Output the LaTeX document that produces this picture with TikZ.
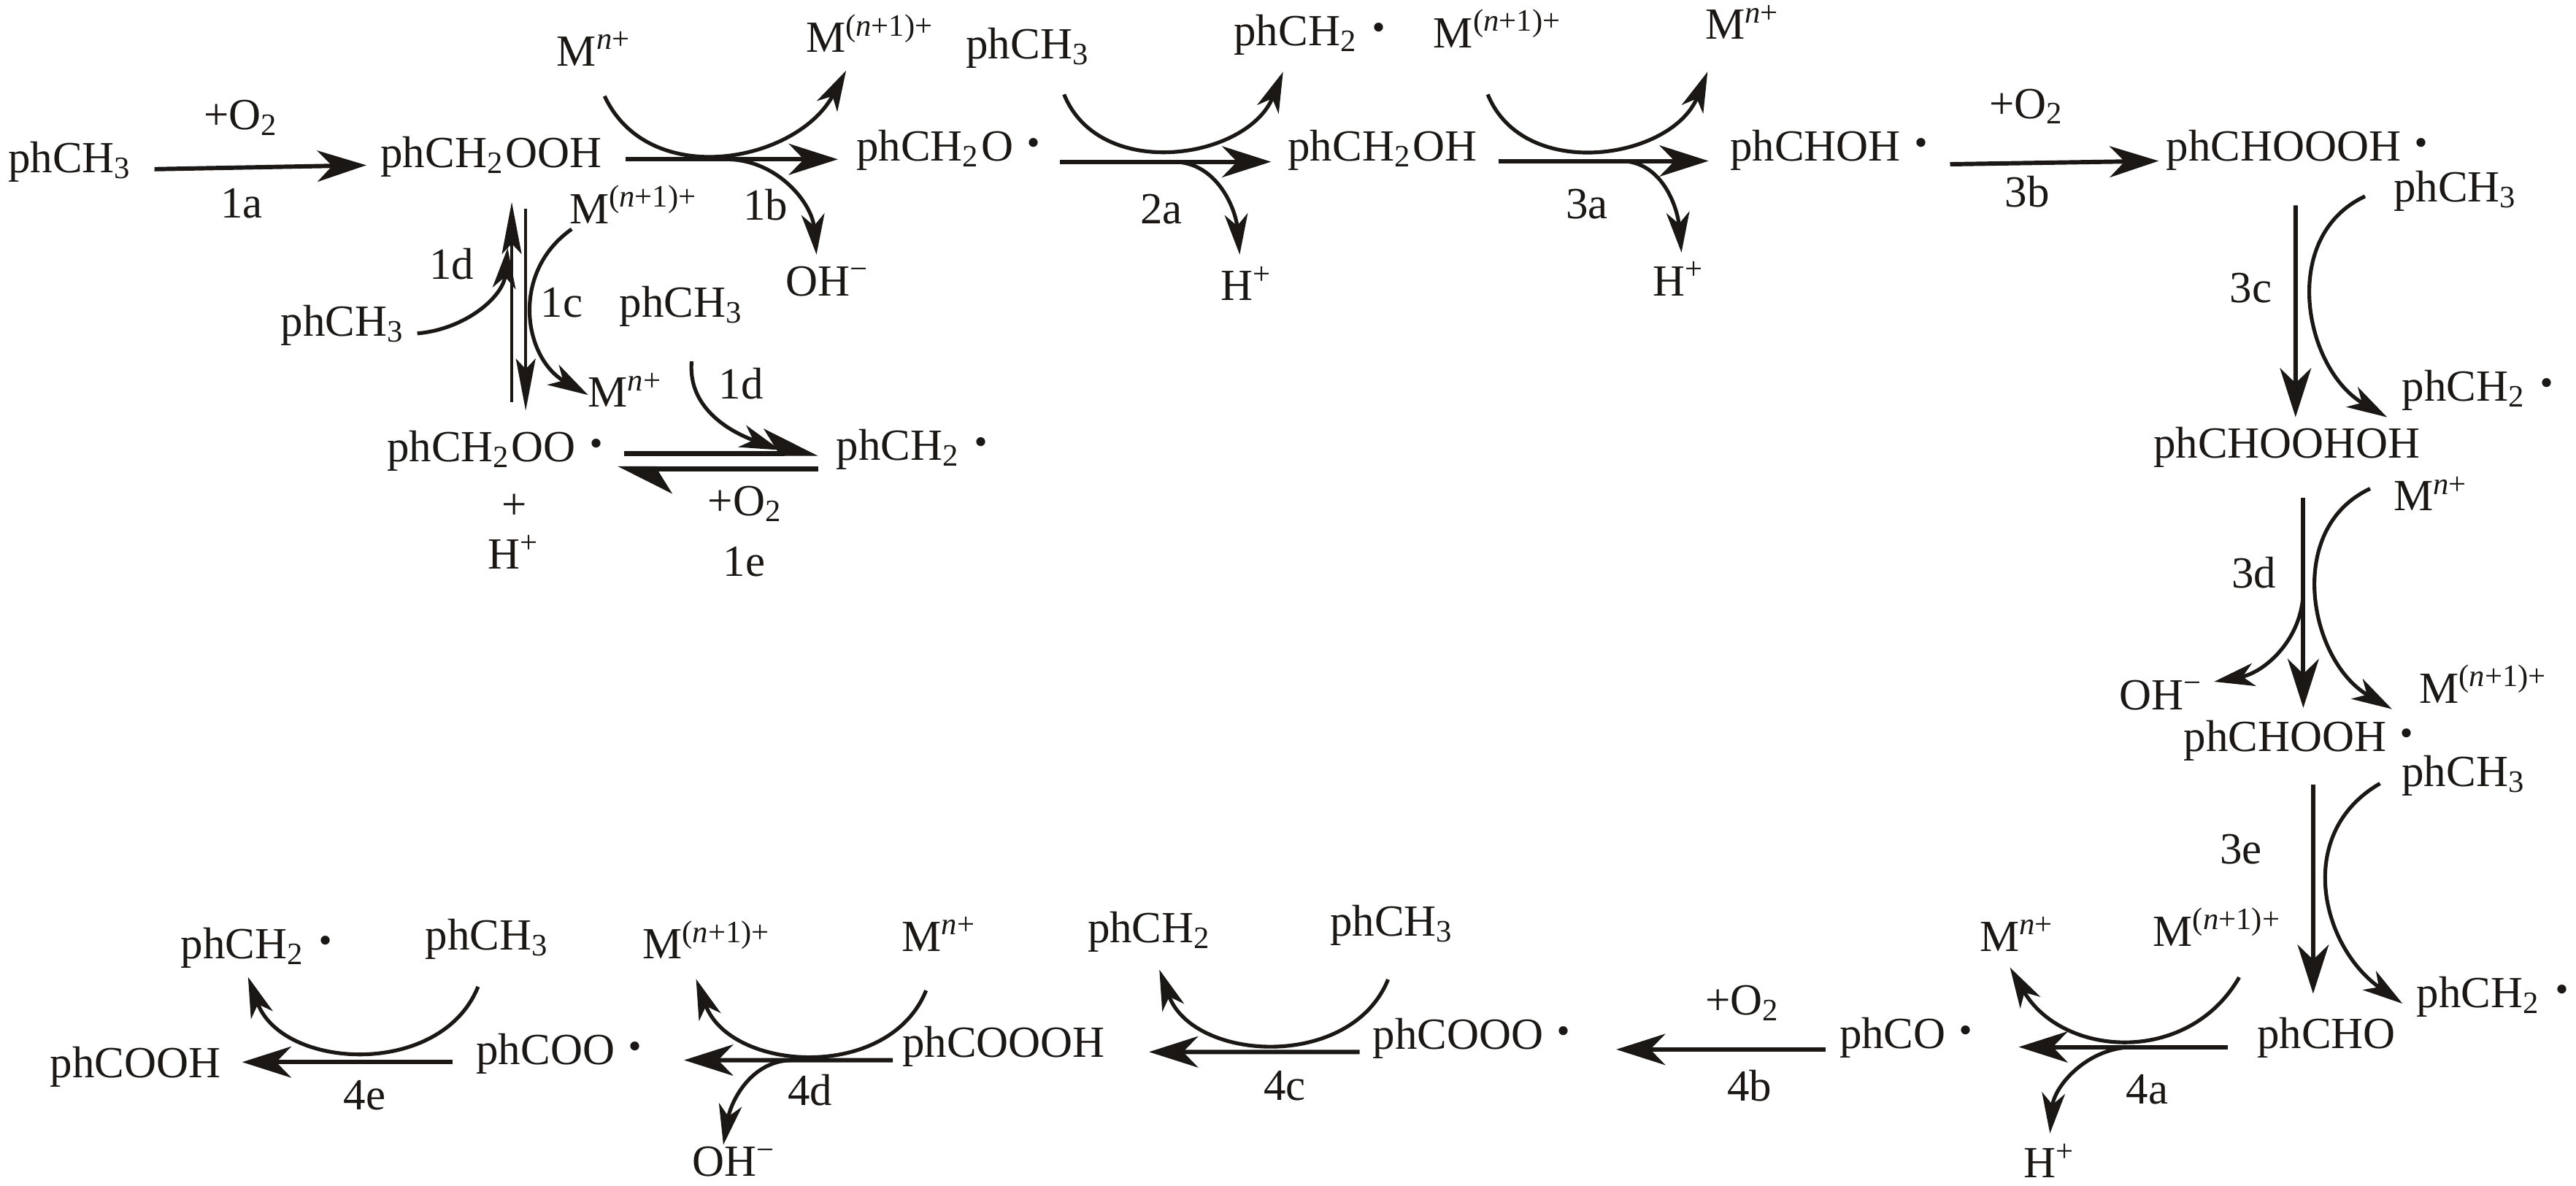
\documentclass[tikz,border=0pt]{standalone}
\usepackage{fontspec}
\setmainfont{Liberation Serif}
\usepackage{xcolor}
\usepackage{tikz}
\usetikzlibrary{arrows.meta}
\definecolor{ink}{HTML}{1A1714}
\newcommand{\dotr}{\ \textbf{\fontsize{9.5}{9}\selectfont ·}}
\newcommand{\tol}{phCH\textsubscript{3}}
\newcommand{\rad}{phCH\textsubscript{2}\dotr}
\newcommand{\mlow}{M\textsuperscript{\textit{n}+}}
\newcommand{\mhigh}{M\textsuperscript{(\textit{n}+1)+}}
\newcommand{\oxy}{+O\textsubscript{2}}
\newcommand{\hyd}{H\textsuperscript{+}}
\newcommand{\hox}{OH\textsuperscript{−}}

\begin{document}
\begin{tikzpicture}[x=.01cm,y=-.01cm,color=ink,
  every node/.style={font=\fontsize{7.7}{9}\selectfont,inner sep=0pt,text height=4pt,text depth=4pt},
  rxn/.style={-{Stealth[length=8.5pt,width=5.4pt,inset=2.6pt]},line width=.75pt},
  side/.style={-{Stealth[length=7pt,width=4pt,inset=2pt]},line width=.65pt},
  thin rxn/.style={-{Stealth[length=9pt,width=3.4pt,inset=1.8pt]},line width=.55pt},
  half/.style={-{Stealth[length=8.5pt,width=8.5pt,inset=2.6pt,harpoon]},line width=.9pt}]
  \useasboundingbox (0,0) rectangle (1568,722);
  \node (tola) at (43,105) {\tol};
  \node (rooh) at (299,102) {phCH\textsubscript{2}OOH};
  \node (mna) at (362,40) {\mlow};
  \node (mpa) at (530,32) {\mhigh};
  \node (ohb) at (504,180) {\hox};
  \node (roa) at (578,98) {phCH\textsubscript{2}O\dotr};
  \node (tolb) at (626,36) {\tol};
  \node (rb) at (798,28) {\rad};
  \node (hb) at (759,183) {\hyd};
  \node (rohc) at (841.5,98) {phCH\textsubscript{2}OH};
  \node (mpc) at (912,29) {\mhigh};
  \node (mnc) at (1061,24) {\mlow};
  \node (hc) at (1022,180) {\hyd};
  \node (choh) at (1114,98) {phCHOH\dotr};
  \node (chooo) at (1399,98) {phCHOOOH\dotr};
  \node (told) at (1495,123) {\tol};
  \node (rd) at (1509,244) {\rad};
  \node (chohoh) at (1392,279) {phCHOOHOH};
  \node (mnd) at (1480,311) {\mlow};
  \node (ohd) at (1316,432) {\hox};
  \node (mpd) at (1512,428) {\mhigh};
  \node (chooh) at (1400,457.6) {phCHOOH\dotr};
  \node (tole) at (1500,478.6) {\tol};
  \node (re) at (1518,613.5) {\rad};
  \node (cho) at (1416,638.4) {phCHO};
  \node (mpf) at (1350,576) {\mhigh};
  \node (mnf) at (1228,579) {\mlow};
  \node (hf) at (1248,717) {\hyd};
  \node (co) at (1161,638.4) {phCO\dotr};
  \node (cooo) at (896.5,638.5) {phCOOO\dotr};
  \node (tolg) at (847.6,570) {\tol};
  \node (rg) at (700,574) {phCH\textsubscript{2}};
  \node (coooh) at (611,643.7) {phCOOOH};
  \node (mng) at (572,579) {\mlow};
  \node (mpg) at (430.6,583.7) {\mhigh};
  \node (ohg) at (447,716) {\hox};
  \node (coo) at (341,648) {phCOO\dotr};
  \node (tolh) at (297,578.5) {\tol};
  \node (rh) at (157,583.7) {\rad};
  \node (cooh) at (82.5,656) {phCOOH};
  \node (mph) at (386,136) {\mhigh};
  \node (tolm) at (415,193) {\tol};
  \node (toll) at (209,204.6) {\tol};
  \node (mnl) at (381,247.7) {\mlow};
  \node (roo) at (302,281) {phCH\textsubscript{2}OO\dotr};
  \node (rl) at (556,280) {\rad};
  \node (plus) at (313,316) {+};
  \node (hl) at (313,346.5) {\hyd};
  \node (oa) at (147,79) {\oxy};
  \node (la) at (147,132.6) {1a};
  \node (lb) at (466,134) {1b};
  \node (lc) at (342,193) {1c};
  \node (ld) at (275,170) {1d};
  \node (ldd) at (451,243) {1d};
  \node (oe) at (454,314) {\oxy};
  \node (le) at (453,351) {1e};
  \node (ltwo) at (707,136) {2a};
  \node (lthree) at (966,133) {3a};
  \node (ob) at (1234,72) {\oxy};
  \node (ltb) at (1234,126) {3b};
  \node (ltc) at (1370,184) {3c};
  \node (ltd) at (1372,358) {3d};
  \node (lte) at (1364,526) {3e};
  \node (lfa) at (1307,672) {4a};
  \node (of) at (1061,617.7) {\oxy};
  \node (lfb) at (1065,670.3) {4b};
  \node (lfc) at (782,670) {4c};
  \node (lfd) at (493,673) {4d};
  \node (lfe) at (222,675.5) {4e};

  \draw[rxn] ([shift={(51,-2)}]tola.center) -- ([shift={(-76,-1.4)}]rooh.center);
  \draw[rxn] ([shift={(82,-5)}]rooh.center) -- coordinate[pos=.473] (kb) ([shift={(-68,-1)}]roa.center);
  \draw[rxn] ([shift={(67,.5)}]roa.center) -- coordinate[pos=.536] (kt) ([shift={(-67.8,.5)}]rohc.center);
  \draw[rxn] ([shift={(70.5,0)}]rohc.center) -- coordinate[pos=.58] (kh) ([shift={(-74,0)}]choh.center);
  \draw[rxn] ([shift={(73,2)}]choh.center) -- ([shift={(-85,0)}]chooo.center);
  \draw[rxn] ([shift={(-1.7,27)}]chooo.center) -- ([shift={(5.3,-25)}]chohoh.center);
  \draw[rxn] ([shift={(10,24)}]chohoh.center) -- coordinate[pos=.436] (kd) ([shift={(2,-26.6)}]chooh.center);
  \draw[rxn] ([shift={(8,20)}]chooh.center) -- ([shift={(-8,-33.4)}]cho.center);
  \draw[rxn] ([shift={(-60,-1)}]cho.center) -- coordinate[pos=.448] (kf) ([shift={(67.8,-1)}]co.center);
  \draw[rxn] ([shift={(-49.7,.5)}]co.center) -- ([shift={(87.3,.4)}]cooo.center);
  \draw[rxn] ([shift={(-68.9,1.9)}]cooo.center) -- ([shift={(88.4,-3.3)}]coooh.center);
  \draw[rxn] ([shift={(-67.5,1.7)}]coooh.center) -- coordinate[pos=.478] (kg) ([shift={(75.4,-2.6)}]coo.center);
  \draw[rxn] ([shift={(-65.4,-1.4)}]coo.center) -- ([shift={(64.9,-9.4)}]cooh.center);

  \draw[side] ([shift={(6,18.5)}]mna.center) to[out=-65,in=-118,looseness=1.1] ([shift={(-15,11)}]mpa.center);
  \draw[side] (kb) to[out=0,in=95] ([shift={(-7,-25)}]ohb.center);
  \draw[side] ([shift={(21.7,21.5)}]tolb.center) to[out=-68,in=-112,looseness=1.1] ([shift={(-17,15.7)}]rb.center);
  \draw[side] (kt) to[out=0,in=95] ([shift={(-4.4,-28)}]hb.center);
  \draw[side] ([shift={(-6.4,28.5)}]mpc.center) to[out=-68,in=-112,looseness=1.1] ([shift={(-21.6,19.7)}]mnc.center);
  \draw[side] (kh) to[out=0,in=95] ([shift={(1.5,-26.2)}]hc.center);
  \draw[side] ([shift={(-55.4,-3.5)}]told.center) to[out=205,in=150,looseness=1.1] ([shift={(-56,10)}]rd.center);
  \draw[side] ([shift={(-37.3,-13.5)}]mnd.center) to[out=205,in=150,looseness=1.1] ([shift={(-56,3.7)}]mpd.center);
  \draw[side] (kd) to[out=-90,in=10] ([shift={(31.7,-17)}]ohd.center);
  \draw[side] ([shift={(-51.3,-1.6)}]tole.center) to[out=210,in=145,looseness=1.15] ([shift={(-55.6,-2.5)}]re.center);
  \draw[side] ([shift={(13,19)}]mpf.center) to[out=-120,in=-60,looseness=1.15] ([shift={(-4.5,10)}]mnf.center);
  \draw[side] (kf) to[out=180,in=85] ([shift={(-.2,-27)}]hf.center);
  \draw[side] ([shift={(-2.7,26.3)}]tolg.center) to[out=-112,in=-70,looseness=1.1] ([shift={(5.7,16.3)}]rg.center);
  \draw[side] ([shift={(-8.3,24)}]mng.center) to[out=-112,in=-70,looseness=1.1] ([shift={(-6.9,12.3)}]mpg.center);
  \draw[side] (kg) to[out=180,in=80] ([shift={(-6.7,-19)}]ohg.center);
  \draw[side] ([shift={(-6,22.2)}]tolh.center) to[out=-112,in=-70,looseness=1.1] ([shift={(-6,11.1)}]rh.center);

  \draw[thin rxn] ([shift={(9.5,-36)}]roo.center) -- ([shift={(12.5,21)}]rooh.center);
  \draw[thin rxn] ([shift={(21,25)}]rooh.center) -- ([shift={(18,-31)}]roo.center);
  \draw[side] ([shift={(-38,3.5)}]mph.center) to[out=215,in=150,looseness=1.15] ([shift={(-23,-7.2)}]mnl.center);
  \draw[side] ([shift={(45,-1.6)}]toll.center) to[out=5,in=-95] ([shift={(10,49)}]rooh.center);
  \draw[side] ([shift={(6,27)}]tolm.center) to[out=-95,in=160] ([shift={(-81,-6)}]rl.center);
  \draw[half] ([shift={(78,-5)}]roo.center) -- ([shift={(-58,-4)}]rl.center);
  \draw[half] ([shift={(-58,5.5)}]rl.center) -- ([shift={(74,4.5)}]roo.center);
\end{tikzpicture}
\end{document}
